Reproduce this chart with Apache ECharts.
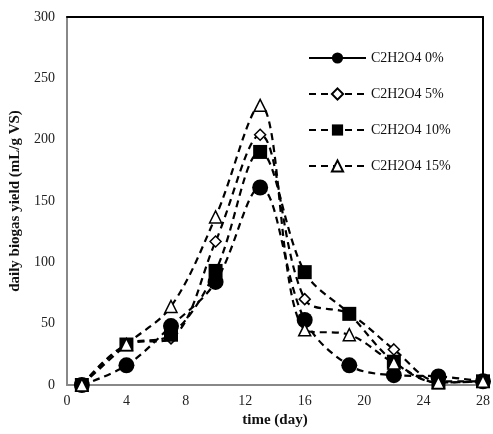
<!DOCTYPE html>
<html><head><meta charset="utf-8">
<script src="https://cdn.jsdelivr.net/npm/echarts@6/dist/echarts.min.js"></script>
<style>html,body{margin:0;padding:0;background:#fff}#c{width:493px;height:434px}</style>
</head><body><div id="c"></div>
<script>
const days = [1, 4, 7, 10, 13, 16, 19, 22, 25, 28];
const seriesNames = ['C2H2O4 0%', 'C2H2O4 5%', 'C2H2O4 10%', 'C2H2O4 15%'];
const s0 = [0, 16, 48, 84, 161, 53, 16, 8, 7, 3];
const s5 = [0, 33, 38, 117, 204, 70, 58, 29, 3, 3];
const s10 = [0, 33, 41, 93, 190, 92, 58, 19, 2, 3];
const s15 = [0, 33, 64, 137, 228, 45, 41, 18, 2, 3];
const xTicks = [0, 4, 8, 12, 16, 20, 24, 28];
const yTicks = [0, 50, 100, 150, 200, 250, 300];

const font = '"Liberation Serif", "DejaVu Serif", serif';
const pair = arr => days.map((d, i) => [d, arr[i]]);
const dash = [7, 5];
const mk = (name, arr, symbol, size, filled) => ({
  name, type: 'line', data: pair(arr), smooth: 0.35,
  symbol, symbolSize: size, showSymbol: true,
  lineStyle: { color: '#000', width: 2.2, type: dash },
  itemStyle: { color: filled ? '#000' : '#fff', borderColor: '#000', borderWidth: filled ? 0 : 1.5, opacity: 1 },
  z: 3
});
const chart = echarts.init(document.getElementById('c'));
chart.setOption({
  animation: false,
  backgroundColor: '#fff',
  grid: { left: 67, right: 7, top: 17, bottom: 49 },
  legend: {
    left: 303, top: 46, orient: 'vertical', itemWidth: 57, itemHeight: 14, itemGap: 22,
    textStyle: { fontFamily: font, fontSize: 14, color: '#111' },
    data: [
      { name: seriesNames[0], lineStyle: { type: 'solid', width: 2 } },
      { name: seriesNames[1] }, { name: seriesNames[2] }, { name: seriesNames[3] }
    ]
  },
  xAxis: [{
    type: 'value', min: 0, max: 28, interval: 4,
    name: 'time (day)', nameLocation: 'middle', nameGap: 27,
    nameTextStyle: { fontFamily: font, fontSize: 15, fontWeight: 'bold', color: '#111' },
    axisLine: { onZero: false, lineStyle: { color: '#888', width: 2 } },
    axisTick: { show: false }, splitLine: { show: false },
    axisLabel: { fontFamily: font, fontSize: 14, color: '#222', margin: 9,
      formatter: v => xTicks.includes(v) ? String(v) : '' }
  }, {
    type: 'value', position: 'top', min: 0, max: 28, interval: 4,
    axisLine: { show: true, onZero: false, lineStyle: { color: '#000', width: 2 } },
    axisTick: { show: false }, axisLabel: { show: false }, splitLine: { show: false }
  }],
  yAxis: [{
    type: 'value', min: 0, max: 300, interval: 50,
    name: 'daily biogas yield (mL/g VS)', nameLocation: 'middle', nameGap: 38,
    nameTextStyle: { fontFamily: font, fontSize: 15, fontWeight: 'bold', color: '#111' },
    axisLine: { show: true, onZero: false, lineStyle: { color: '#888', width: 2 } },
    axisTick: { show: false }, splitLine: { show: false },
    axisLabel: { fontFamily: font, fontSize: 14, color: '#222', margin: 12,
      formatter: v => yTicks.includes(v) ? String(v) : '' }
  }, {
    type: 'value', position: 'right', min: 0, max: 300, interval: 50,
    axisLine: { show: true, onZero: false, lineStyle: { color: '#000', width: 2 } },
    axisTick: { show: false }, axisLabel: { show: false }, splitLine: { show: false }
  }],
  series: [
    mk(seriesNames[0], s0, 'circle', 16, true),
    mk(seriesNames[1], s5, 'diamond', 11, false),
    mk(seriesNames[2], s10, 'rect', 14, true),
    mk(seriesNames[3], s15, 'triangle', 12, false)
  ]
});
</script></body></html>
